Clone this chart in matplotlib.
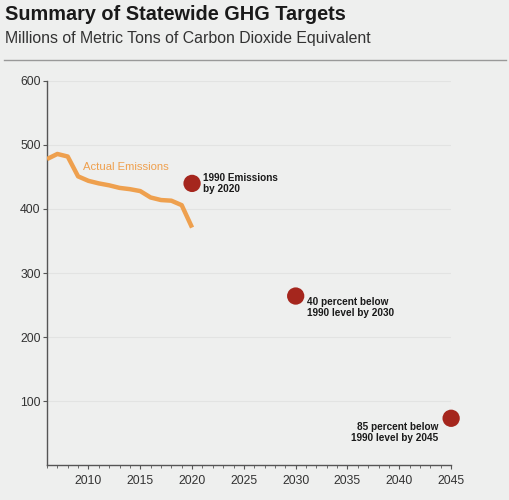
import matplotlib.pyplot as plt
from matplotlib.ticker import MultipleLocator

plt.rcParams['font.family'] = ['Liberation Sans', 'DejaVu Sans']

BG = '#eeefee'
ORANGE = '#eea04e'
RED = '#a5261d'

# actual emissions (MMTCO2e)
years = [2006, 2007, 2008, 2009, 2010, 2011, 2012, 2013, 2014, 2015,
         2016, 2017, 2018, 2019, 2020]
emissions = [478, 486, 482, 451, 444, 440, 437, 433, 431, 428,
             418, 414, 413, 406, 371]

# targets
target_years = [2020, 2030, 2045]
target_values = [440, 264, 73]
target_labels = ['1990 Emissions\nby 2020',
                 '40 percent below\n1990 level by 2030',
                 '85 percent below\n1990 level by 2045']

fig = plt.figure(figsize=(5.09, 5.0), dpi=100, facecolor=BG)
ax = fig.add_axes([0.0923, 0.07, 0.794, 0.768])
ax.set_facecolor(BG)

ax.plot(years, emissions, color=ORANGE, lw=3.2, solid_capstyle='butt',
        solid_joinstyle='round', zorder=3)
ax.text(2013.6, 466, 'Actual Emissions', color=ORANGE, fontsize=8.1,
        ha='center', va='center')

ax.scatter(target_years, target_values, s=155, color=RED, zorder=4,
           edgecolors='none', clip_on=False)

ax.text(2021.1, 440, target_labels[0], fontsize=7.2, fontweight='bold',
        color='#1a1a1a', ha='left', va='center', linespacing=1.05)
ax.text(2031.1, 262, target_labels[1], fontsize=7.2, fontweight='bold',
        color='#1a1a1a', ha='left', va='top', linespacing=1.05)
ax.text(2043.8, 67, target_labels[2], fontsize=7.2, fontweight='bold',
        color='#1a1a1a', ha='right', va='top', linespacing=1.05)

ax.set_xlim(2006, 2045)
ax.set_ylim(0, 600)
ax.set_xticks(range(2010, 2046, 5))
ax.xaxis.set_minor_locator(MultipleLocator(1))
ax.set_yticks([100, 200, 300, 400, 500, 600])
ax.yaxis.grid(True, color='#e2e3e2', lw=0.8)
ax.set_axisbelow(True)

for side in ['top', 'right']:
    ax.spines[side].set_visible(False)
for side in ['left', 'bottom']:
    ax.spines[side].set_color('#555555')
    ax.spines[side].set_linewidth(1.0)

ax.tick_params(axis='both', which='major', length=3, width=0.8,
               color='#555555', labelsize=8.8, labelcolor='#333333', pad=1.5)
ax.tick_params(axis='x', which='minor', length=2, width=0.6, color='#555555')
ax.tick_params(axis='x', which='major', pad=4)

fig.text(0.01, 0.97, 'Summary of Statewide GHG Targets', fontsize=14.3,
         fontweight='bold', color='#1a1a1a', va='center')
fig.text(0.01, 0.922, 'Millions of Metric Tons of Carbon Dioxide Equivalent',
         fontsize=11.4, color='#333333', va='center')
fig.add_artist(plt.Line2D([0.008, 0.995], [0.881, 0.881], color='#999999',
                          lw=1.0, transform=fig.transFigure))

fig.savefig('out.png', dpi=100, facecolor=BG)
